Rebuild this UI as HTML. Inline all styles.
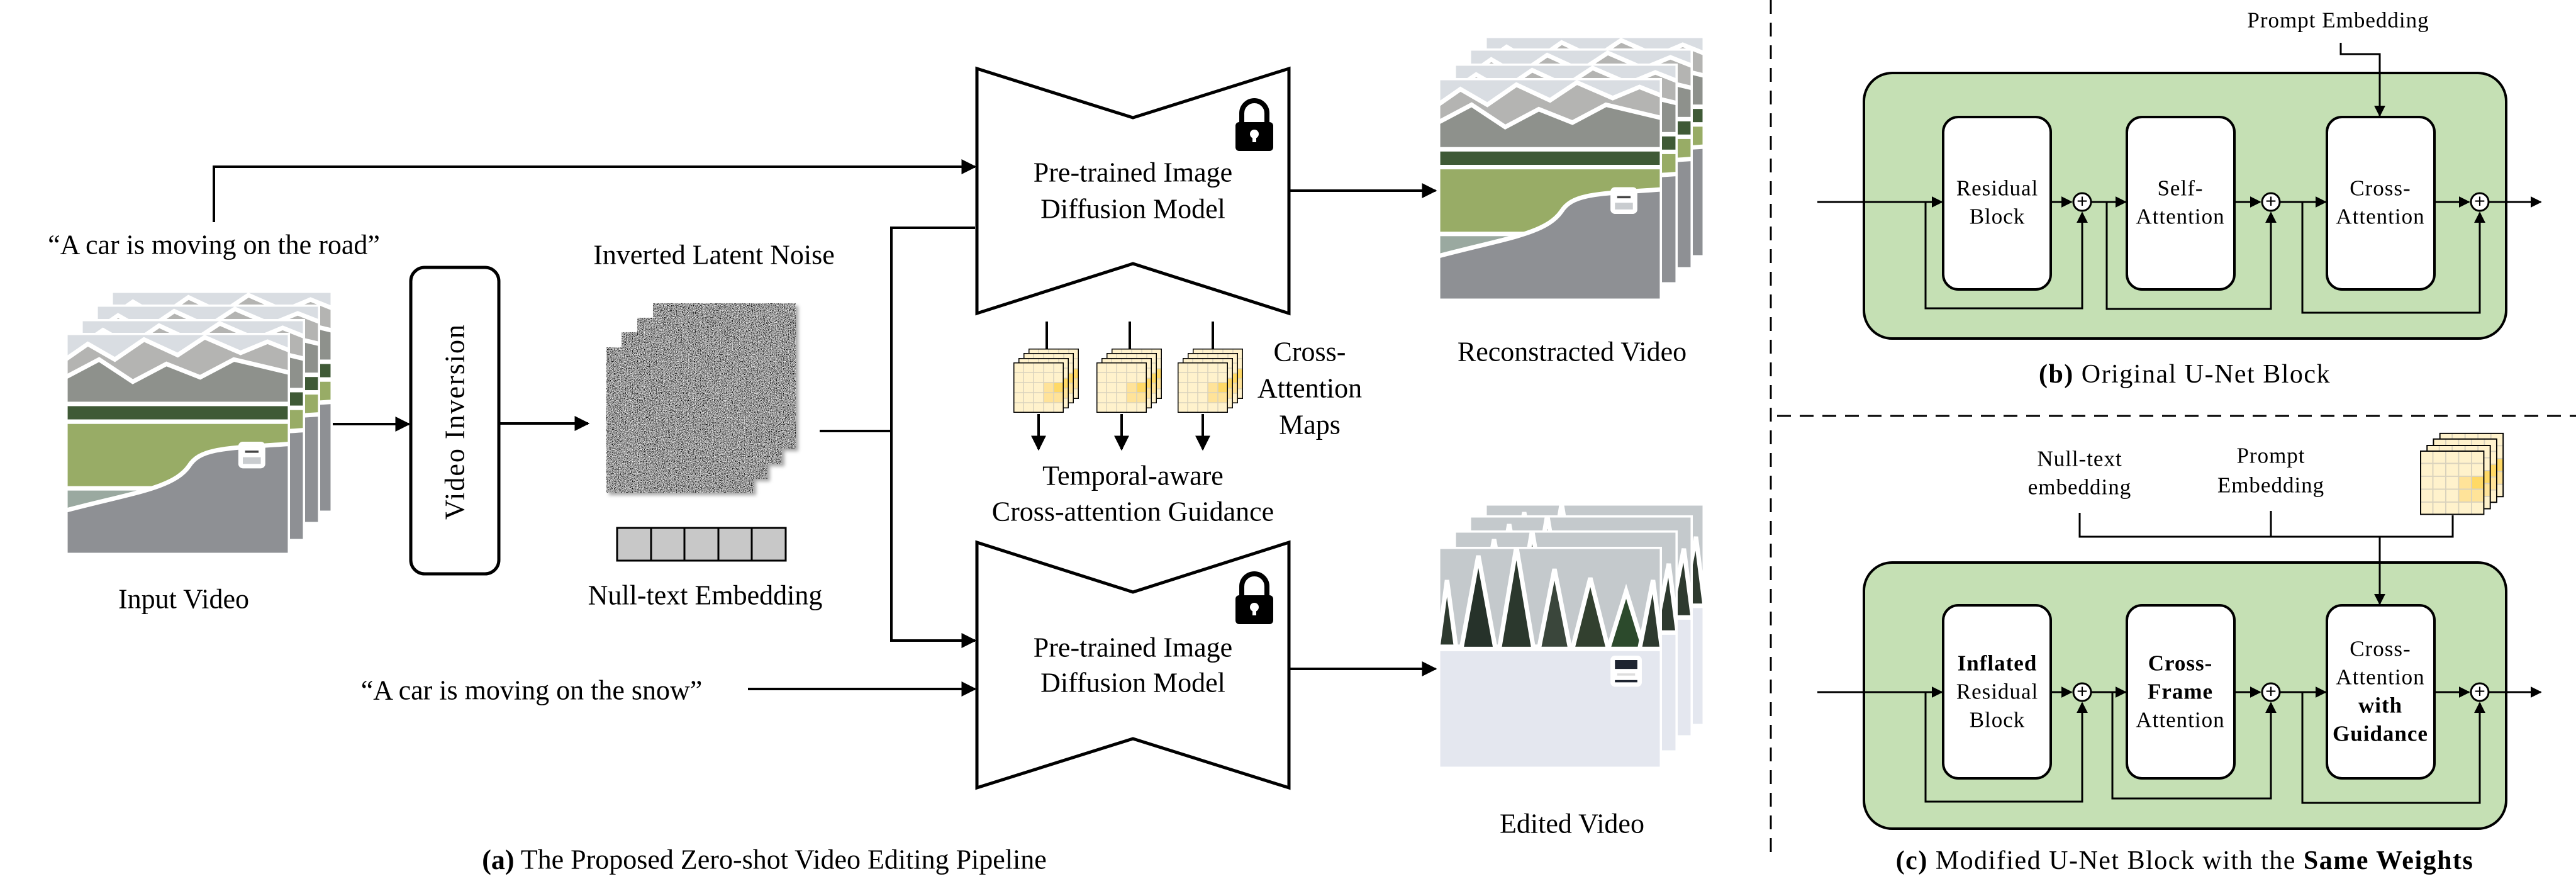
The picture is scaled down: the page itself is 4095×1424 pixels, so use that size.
<!DOCTYPE html>
<html><head><meta charset="utf-8"><style>
html,body{margin:0;padding:0;background:#fff;}
svg{display:block;font-family:"Liberation Serif","DejaVu Serif",serif;}
svg text{font-family:"Liberation Serif","DejaVu Serif",serif;fill:#000;}
.l{font-size:44px;}
.r{font-size:35px;letter-spacing:1px;}
</style></head><body>
<svg width="4095" height="1424" viewBox="0 0 4095 1424" xmlns="http://www.w3.org/2000/svg" font-family="Liberation Serif, DejaVu Serif, serif">
<defs>
<marker id="a" viewBox="0 0 10 10" refX="9" refY="5" markerWidth="6" markerHeight="6" orient="auto" markerUnits="strokeWidth"><path d="M0,0 L10,5 L0,10 z" fill="#000"/></marker>
<filter id="noise" x="0" y="0" width="100%" height="100%">
<feTurbulence type="fractalNoise" baseFrequency="0.9" numOctaves="1" seed="3"/>
<feColorMatrix type="matrix" values="0.33 0.33 0.33 0 0 0.33 0.33 0.33 0 0 0.33 0.33 0.33 0 0 0 0 0 0 1"/>
<feComponentTransfer><feFuncR type="linear" slope="5" intercept="-2.1"/><feFuncG type="linear" slope="5" intercept="-2.1"/><feFuncB type="linear" slope="5" intercept="-2.1"/></feComponentTransfer>
</filter>
<symbol id="road" viewBox="0 0 100 100" preserveAspectRatio="none">
<rect width="100" height="100" fill="#9aa9a0"/>
<rect width="100" height="14" fill="#d9dde2"/>
<polygon points="0,12 10,5 22,12 35,3 50,10 62,2 78,9 90,4 100,8 100,35 0,35" fill="#b4b4b2"/>
<polygon points="0,20 15,12 30,22 45,14 60,20 75,12 100,18 100,38 0,38" fill="#8e918c"/>
<rect y="32" width="100" height="8" fill="#3f5a36"/>
<rect y="40" width="100" height="30" fill="#98ac66"/>
<path d="M0,80 C30,72 48,70 55,60 C60,52 70,52 100,50 L100,100 L0,100 z" fill="#8e9094"/>
<rect x="78" y="50" width="10" height="10" rx="1" fill="#c9cccf"/>
<rect x="79" y="52" width="8" height="3" fill="#444"/>
</symbol>
<symbol id="snow" viewBox="0 0 100 100" preserveAspectRatio="none">
<rect width="100" height="100" fill="#e6e9f0"/>
<rect width="100" height="45" fill="#c4c9cc"/>
<polygon points="0,45 4,15 8,45" fill="#2e3a2f"/><polygon points="10,48 18,4 26,48" fill="#26322a"/>
<polygon points="27,48 35,0 43,48" fill="#2b382d"/><polygon points="45,46 52,10 59,46" fill="#3a463b"/>
<polygon points="60,46 68,14 76,46" fill="#32402f"/><polygon points="76,46 84,20 92,46" fill="#2c4a2c"/>
<polygon points="90,46 96,15 100,46" fill="#2e3a2f"/>
<rect y="46" width="100" height="54" fill="#e4e7ef"/>
<rect x="78" y="50" width="12" height="12" rx="1" fill="#1e2430"/>
<rect x="79" y="56" width="10" height="3" fill="#ddd"/>
</symbol>
<symbol id="map" viewBox="0 0 80 80" preserveAspectRatio="none">
<rect width="80" height="80" fill="#fff2cc"/>
<rect x="48" y="32" width="32" height="32" fill="#ffe399"/>
<rect x="64" y="32" width="16" height="16" fill="#ffd966"/>
<path d="M16,0V80M32,0V80M48,0V80M64,0V80M0,16H80M0,32H80M0,48H80M0,64H80" stroke="#d9d2bd" stroke-width="1.5"/>
<rect width="80" height="80" fill="none" stroke="#000" stroke-width="3"/>
</symbol>
<g id="mapstack">
<use href="#map" x="24" y="-22" width="80" height="80"/>
<use href="#map" x="16" y="-15" width="80" height="80"/>
<use href="#map" x="8" y="-7" width="80" height="80"/>
<use href="#map" x="0" y="0" width="80" height="80"/>
</g>
<g id="lock">
<path d="M10,38 V22 a20,20 0 0 1 40,0 V38" fill="none" stroke="#000" stroke-width="8"/>
<rect x="0" y="36" width="60" height="46" rx="6" fill="#000"/>
<circle cx="30" cy="55" r="7" fill="#fff"/><rect x="27" y="55" width="6" height="13" fill="#fff"/>
</g>
</defs>

<line x1="2815" y1="0" x2="2815" y2="1358" stroke="#000" stroke-width="3" stroke-dasharray="22,14"/>
<line x1="2825" y1="661" x2="4095" y2="661" stroke="#000" stroke-width="3" stroke-dasharray="22,14"/>

<g stroke="#000" stroke-width="4" fill="none">
<polyline points="340,353 340,265 1550,265" marker-end="url(#a)"/>
<line x1="529" y1="674" x2="650" y2="674" marker-end="url(#a)"/>
<line x1="794" y1="673" x2="935" y2="673" marker-end="url(#a)"/>
<polyline points="1303,685 1417,685"/>
<polyline points="1550,362 1417,362 1417,1018 1550,1018" marker-end="url(#a)"/>
<line x1="1189" y1="1095" x2="1550" y2="1095" marker-end="url(#a)"/>
<line x1="2049" y1="303" x2="2282" y2="303" marker-end="url(#a)"/>
<line x1="2049" y1="1063" x2="2282" y2="1063" marker-end="url(#a)"/>
</g>

<text class="l" x="340" y="389" text-anchor="middle" dominant-baseline="central">“A car is moving on the road”</text>
<text class="l" x="292" y="952" text-anchor="middle" dominant-baseline="central">Input Video</text>
<text class="l" x="1135" y="405" text-anchor="middle" dominant-baseline="central">Inverted Latent Noise</text>
<text class="l" x="1121" y="946" text-anchor="middle" dominant-baseline="central">Null-text Embedding</text>
<text class="l" x="845" y="1097" text-anchor="middle" dominant-baseline="central">“A car is moving on the snow”</text>
<text class="l" x="1215" y="1366" text-anchor="middle" dominant-baseline="central"><tspan font-weight="bold">(a)</tspan> The Proposed Zero-shot Video Editing Pipeline</text>

<g stroke="#fff" stroke-width="2">
<use href="#road" x="176" y="462" width="353" height="353"/>
<use href="#road" x="152" y="484" width="357" height="349"/>
<use href="#road" x="128" y="507" width="357" height="353"/>
<use href="#road" x="104" y="529" width="357" height="353"/>
</g>

<rect x="653" y="425" width="140" height="487" rx="22" fill="#fff" stroke="#000" stroke-width="5"/>
<text class="l" transform="translate(723,670) rotate(-90)" text-anchor="middle" dominant-baseline="central" letter-spacing="2">Video Inversion</text>

<g style="filter:drop-shadow(4px 4px 3px rgba(0,0,0,.35))">
<rect x="1038" y="482" width="227" height="231" filter="url(#noise)"/>
<rect x="1013" y="505" width="230" height="232" filter="url(#noise)"/>
<rect x="988" y="528" width="232" height="233" filter="url(#noise)"/>
<rect x="964" y="552" width="234" height="231" filter="url(#noise)"/>
</g>
<g stroke="#000" stroke-width="3" fill="#c8c8c8">
<rect x="981" y="839" width="268" height="52"/>
<path d="M1035,839V891M1088,839V891M1142,839V891M1195,839V891" fill="none"/>
</g>

<g fill="#fff" stroke="#000" stroke-width="5" stroke-linejoin="miter">
<polygon points="1553,109 1801,187 2049,109 2049,498 1801,419 1553,498"/>
<polygon points="1553,862 1801,941 2049,862 2049,1252 1801,1174 1553,1252"/>
</g>
<use href="#lock" x="1964" y="158"/>
<use href="#lock" x="1964" y="910"/>
<text class="l" x="1801" y="274" text-anchor="middle" dominant-baseline="central">Pre-trained Image</text>
<text class="l" x="1801" y="332" text-anchor="middle" dominant-baseline="central">Diffusion Model</text>
<text class="l" x="1801" y="1029" text-anchor="middle" dominant-baseline="central">Pre-trained Image</text>
<text class="l" x="1801" y="1085" text-anchor="middle" dominant-baseline="central">Diffusion Model</text>

<g stroke="#000" stroke-width="4" fill="none">
<line x1="1664" y1="511" x2="1664" y2="556"/><line x1="1796" y1="511" x2="1796" y2="556"/><line x1="1928" y1="511" x2="1928" y2="556"/>
<line x1="1651" y1="658" x2="1651" y2="714" marker-end="url(#a)"/><line x1="1783" y1="658" x2="1783" y2="714" marker-end="url(#a)"/><line x1="1912" y1="658" x2="1912" y2="714" marker-end="url(#a)"/>
</g>
<use href="#mapstack" transform="translate(1611,576)"/>
<use href="#mapstack" transform="translate(1743,576)"/>
<use href="#mapstack" transform="translate(1872,576)"/>
<text class="l" x="2082" y="559" text-anchor="middle" dominant-baseline="central">Cross-</text>
<text class="l" x="2082" y="617" text-anchor="middle" dominant-baseline="central">Attention</text>
<text class="l" x="2082" y="675" text-anchor="middle" dominant-baseline="central">Maps</text>
<text class="l" x="1801" y="756" text-anchor="middle" dominant-baseline="central">Temporal-aware</text>
<text class="l" x="1801" y="813" text-anchor="middle" dominant-baseline="central">Cross-attention Guidance</text>

<g stroke="#fff" stroke-width="2">
<use href="#road" x="2360" y="57" width="350" height="352"/>
<use href="#road" x="2335" y="77" width="356" height="351"/>
<use href="#road" x="2311" y="101" width="356" height="351"/>
<use href="#road" x="2286" y="124" width="356" height="354"/>
<use href="#snow" x="2360" y="800" width="350" height="354"/>
<use href="#snow" x="2335" y="819" width="356" height="353"/>
<use href="#snow" x="2311" y="843" width="356" height="353"/>
<use href="#snow" x="2286" y="869" width="356" height="353"/>
</g>
<text class="l" x="2499" y="559" text-anchor="middle" dominant-baseline="central">Reconstracted Video</text>
<text class="l" x="2499" y="1309" text-anchor="middle" dominant-baseline="central">Edited Video</text>

<rect x="2963" y="116" width="1021" height="422" rx="45" fill="#c5e0b4" stroke="#000" stroke-width="4"/>
<g fill="#fff" stroke="#000" stroke-width="4">
<rect x="3089" y="186" width="171" height="274" rx="24"/>
<rect x="3381" y="186" width="171" height="274" rx="24"/>
<rect x="3699" y="186" width="171" height="274" rx="24"/>
</g>
<g stroke="#000" stroke-width="3" fill="none">
<line x1="2889" y1="321" x2="3087" y2="321" marker-end="url(#a)"/>
<line x1="3260" y1="321" x2="3293" y2="321" marker-end="url(#a)"/>
<line x1="3325" y1="321" x2="3379" y2="321" marker-end="url(#a)"/>
<line x1="3552" y1="321" x2="3593" y2="321" marker-end="url(#a)"/>
<line x1="3625" y1="321" x2="3697" y2="321" marker-end="url(#a)"/>
<line x1="3870" y1="321" x2="3925" y2="321" marker-end="url(#a)"/>
<line x1="3957" y1="321" x2="4039" y2="321" marker-end="url(#a)"/>
<polyline points="3061,321 3061,490 3310,490 3310,338" marker-end="url(#a)"/>
<polyline points="3349,321 3349,491 3610,491 3610,338" marker-end="url(#a)"/>
<polyline points="3660,321 3660,497 3942,497 3942,338" marker-end="url(#a)"/>
<polyline points="3721,68 3721,86 3783,86 3783,184" marker-end="url(#a)"/>
<circle cx="3310" cy="321" r="14" fill="#fff"/><circle cx="3610" cy="321" r="14" fill="#fff"/><circle cx="3942" cy="321" r="14" fill="#fff"/>
</g>
<g font-size="30" text-anchor="middle" dominant-baseline="central">
<text x="3310" y="320" style="font-family:'Liberation Sans',sans-serif">+</text><text x="3610" y="320" style="font-family:'Liberation Sans',sans-serif">+</text><text x="3942" y="320" style="font-family:'Liberation Sans',sans-serif">+</text>
</g>
<text class="r" x="3717" y="32" text-anchor="middle" dominant-baseline="central">Prompt Embedding</text>
<text class="r" x="3175" y="299" text-anchor="middle" dominant-baseline="central">Residual</text>
<text class="r" x="3175" y="344" text-anchor="middle" dominant-baseline="central">Block</text>
<text class="r" x="3466" y="299" text-anchor="middle" dominant-baseline="central">Self-</text>
<text class="r" x="3466" y="344" text-anchor="middle" dominant-baseline="central">Attention</text>
<text class="r" x="3784" y="299" text-anchor="middle" dominant-baseline="central">Cross-</text>
<text class="r" x="3784" y="344" text-anchor="middle" dominant-baseline="central">Attention</text>
<text x="3473" y="595" font-size="42" letter-spacing="1.5" text-anchor="middle" dominant-baseline="central"><tspan font-weight="bold">(b)</tspan> Original U-Net Block</text>

<text class="r" x="3306" y="729" text-anchor="middle" dominant-baseline="central">Null-text</text>
<text class="r" x="3306" y="774" text-anchor="middle" dominant-baseline="central">embedding</text>
<text class="r" x="3610" y="724" text-anchor="middle" dominant-baseline="central">Prompt</text>
<text class="r" x="3610" y="771" text-anchor="middle" dominant-baseline="central">Embedding</text>
<use href="#mapstack" transform="translate(3847,716) scale(1.28,1.28)"/>
<g stroke="#000" stroke-width="3" fill="none">
<polyline points="3306,815 3306,853 3899,853 3899,819"/>
<line x1="3610" y1="812" x2="3610" y2="853"/>
</g>
<rect x="2963" y="894" width="1021" height="423" rx="45" fill="#c5e0b4" stroke="#000" stroke-width="4"/>
<line x1="3783" y1="853" x2="3783" y2="960" stroke="#000" stroke-width="3" marker-end="url(#a)"/>
<g fill="#fff" stroke="#000" stroke-width="4">
<rect x="3089" y="962" width="171" height="275" rx="24"/>
<rect x="3381" y="962" width="171" height="275" rx="24"/>
<rect x="3699" y="962" width="171" height="275" rx="24"/>
</g>
<g stroke="#000" stroke-width="3" fill="none">
<line x1="2889" y1="1100" x2="3087" y2="1100" marker-end="url(#a)"/>
<line x1="3260" y1="1100" x2="3293" y2="1100" marker-end="url(#a)"/>
<line x1="3325" y1="1100" x2="3379" y2="1100" marker-end="url(#a)"/>
<line x1="3552" y1="1100" x2="3593" y2="1100" marker-end="url(#a)"/>
<line x1="3625" y1="1100" x2="3697" y2="1100" marker-end="url(#a)"/>
<line x1="3870" y1="1100" x2="3925" y2="1100" marker-end="url(#a)"/>
<line x1="3957" y1="1100" x2="4039" y2="1100" marker-end="url(#a)"/>
<polyline points="3061,1100 3061,1274 3310,1274 3310,1117" marker-end="url(#a)"/>
<polyline points="3358,1100 3358,1269 3610,1269 3610,1117" marker-end="url(#a)"/>
<polyline points="3660,1100 3660,1276 3942,1276 3942,1117" marker-end="url(#a)"/>
<circle cx="3310" cy="1100" r="14" fill="#fff"/><circle cx="3610" cy="1100" r="14" fill="#fff"/><circle cx="3942" cy="1100" r="14" fill="#fff"/>
</g>
<g font-size="30" text-anchor="middle" dominant-baseline="central">
<text x="3310" y="1099" style="font-family:'Liberation Sans',sans-serif">+</text><text x="3610" y="1099" style="font-family:'Liberation Sans',sans-serif">+</text><text x="3942" y="1099" style="font-family:'Liberation Sans',sans-serif">+</text>
</g>
<text class="r" x="3175" y="1054" text-anchor="middle" dominant-baseline="central" font-weight="bold">Inflated</text>
<text class="r" x="3175" y="1099" text-anchor="middle" dominant-baseline="central">Residual</text>
<text class="r" x="3175" y="1144" text-anchor="middle" dominant-baseline="central">Block</text>
<text class="r" x="3466" y="1054" text-anchor="middle" dominant-baseline="central" font-weight="bold">Cross-</text>
<text class="r" x="3466" y="1099" text-anchor="middle" dominant-baseline="central" font-weight="bold">Frame</text>
<text class="r" x="3466" y="1144" text-anchor="middle" dominant-baseline="central">Attention</text>
<text class="r" x="3784" y="1031" text-anchor="middle" dominant-baseline="central">Cross-</text>
<text class="r" x="3784" y="1076" text-anchor="middle" dominant-baseline="central">Attention</text>
<text class="r" x="3784" y="1121" text-anchor="middle" dominant-baseline="central" font-weight="bold">with</text>
<text class="r" x="3784" y="1166" text-anchor="middle" dominant-baseline="central" font-weight="bold">Guidance</text>
<text x="3473" y="1368" font-size="42" letter-spacing="1.5" text-anchor="middle" dominant-baseline="central"><tspan font-weight="bold">(c)</tspan> Modified U-Net Block with the <tspan font-weight="bold">Same Weights</tspan></text>
</svg>
</body></html>
